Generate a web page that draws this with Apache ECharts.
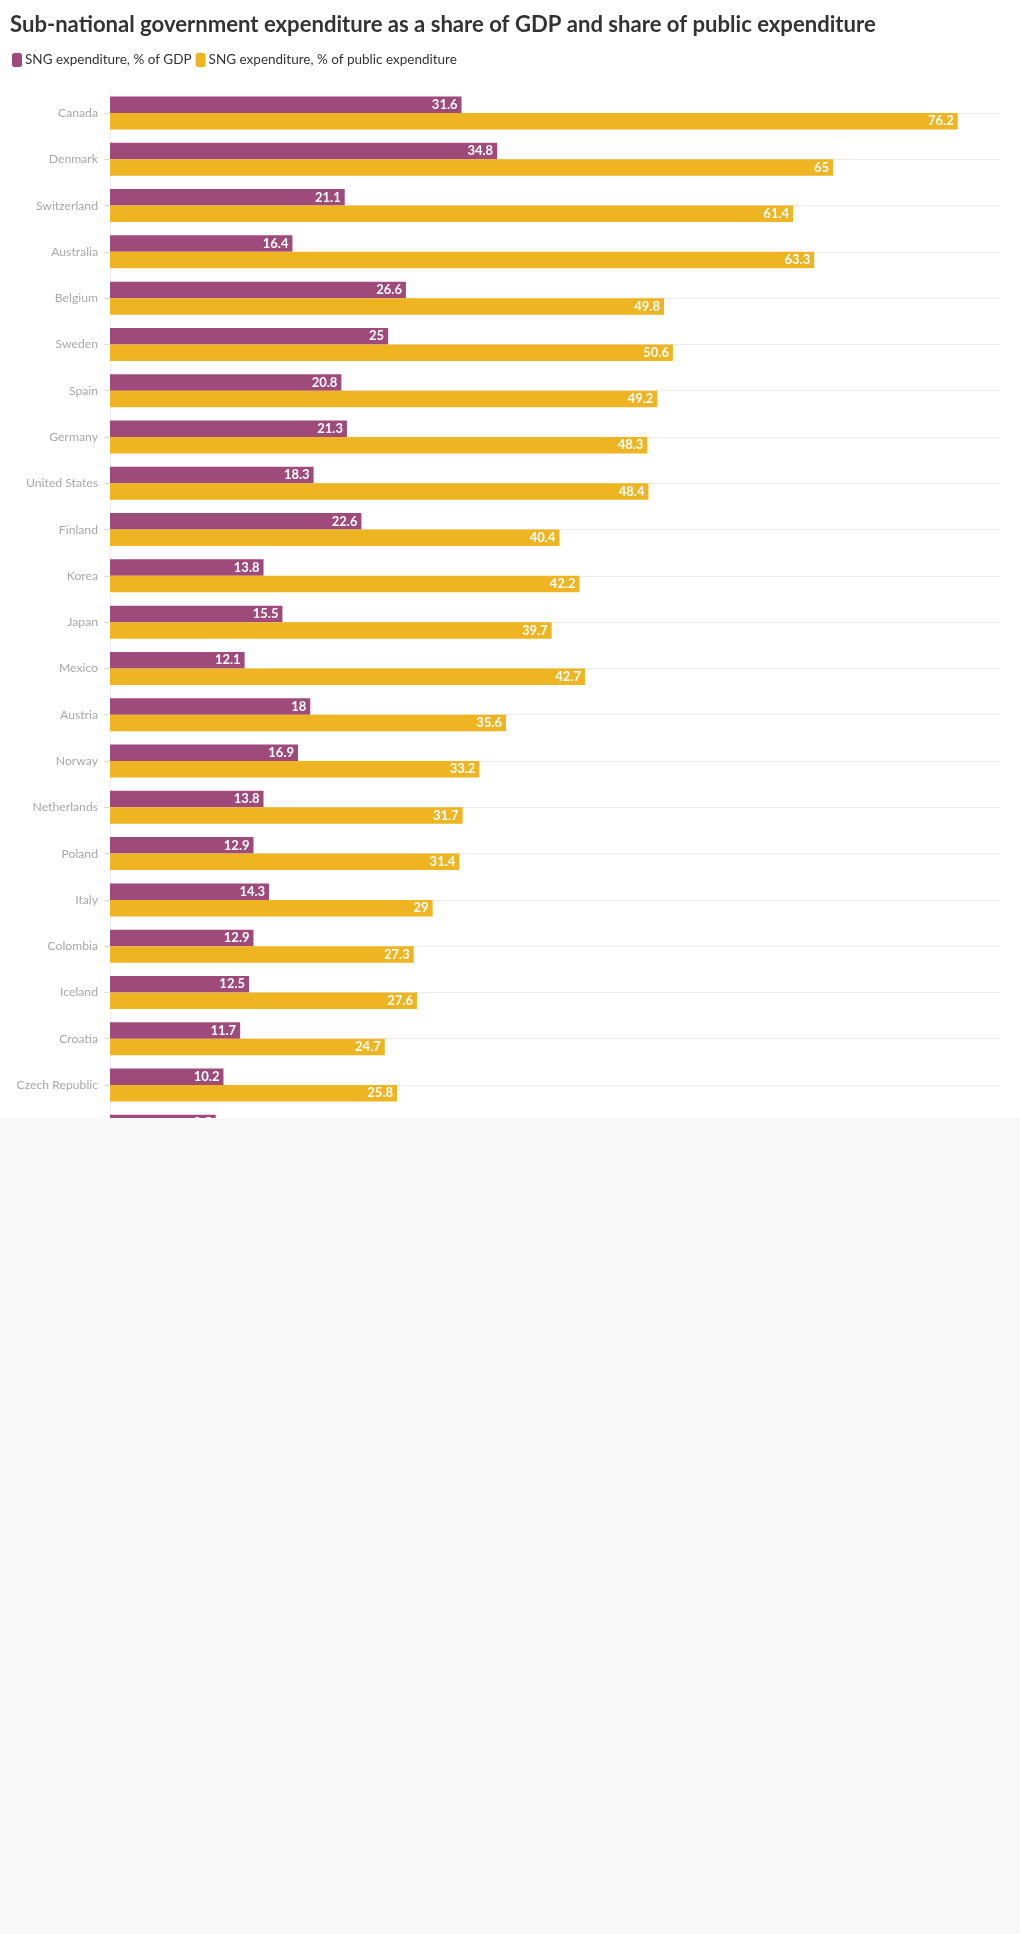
<!DOCTYPE html>
<html>
<head>
<meta charset="utf-8">
<script src="https://cdn.jsdelivr.net/npm/echarts@6/dist/echarts.min.js"></script>
<style>
  html, body { margin: 0; padding: 0; background: #f8f8f8; }
  #wrap { position: absolute; left: 0; top: 0; width: 1020px; height: 1118px; overflow: hidden; background: #ffffff; }
  #chart { width: 1020px; height: 1200px; }
</style>
</head>
<body>
<div id="wrap"><div id="chart"></div></div>
<script>
const categories = ["Canada","Denmark","Switzerland","Australia","Belgium","Sweden","Spain","Germany","United States","Finland","Korea","Japan","Mexico","Austria","Norway","Netherlands","Poland","Italy","Colombia","Iceland","Croatia","Czech Republic","Estonia"];
const gdpShare = [31.6,34.8,21.1,16.4,26.6,25,20.8,21.3,18.3,22.6,13.8,15.5,12.1,18,16.9,13.8,12.9,14.3,12.9,12.5,11.7,10.2,9.5];
const publicShare = [76.2,65,61.4,63.3,49.8,50.6,49.2,48.3,48.4,40.4,42.2,39.7,42.7,35.6,33.2,31.7,31.4,29,27.3,27.6,24.7,25.8,24.1];
const seriesNames = ["SNG expenditure, % of GDP","SNG expenditure, % of public expenditure"];
const titleText = "Sub-national government expenditure as a share of GDP and share of public expenditure";

const FONT = "Lato";
const chart = echarts.init(document.getElementById('chart'), null, {renderer: 'canvas'});
const labelCfg = {
  show: true, position: 'insideRight', distance: 4,
  color: '#ffffff', fontWeight: 'bold', fontSize: 13, fontFamily: FONT
};
chart.setOption({
  animation: false,
  backgroundColor: '#ffffff',
  textStyle: { fontFamily: FONT },
  title: {
    text: titleText, left: 5, top: 9,
    textStyle: { fontSize: 22.1, fontWeight: 'bold', color: '#333333', fontFamily: FONT }
  },
  legend: {
    left: 7, top: 53, itemWidth: 10, itemHeight: 14, itemGap: 4, icon: 'roundRect',
    padding: [0, 5],
    textStyle: { fontSize: 13.5, color: '#333333', fontFamily: FONT, padding: [0, 0, 0, -2] },
    data: seriesNames
  },
  grid: { left: 110, right: 20, top: 89.86, height: 1064.6, containLabel: false },
  xAxis: {
    type: 'value', min: 0, max: 80, show: false,
    splitLine: { show: false }
  },
  yAxis: {
    type: 'category', data: categories, inverse: true,
    axisLine: { show: true, lineStyle: { color: '#eeeeee', width: 1 } },
    axisTick: { show: true, alignWithLabel: true, length: 6, lineStyle: { color: '#dddddd' } },
    axisLabel: { color: '#a8a8a8', fontSize: 12.2, margin: 12, fontFamily: FONT },
    splitLine: { show: true, alignWithLabel: true, lineStyle: { color: '#ececec', width: 1 } }
  },
  series: [
    {
      name: seriesNames[0], type: 'bar', data: gdpShare,
      barWidth: 16.5, barGap: '0%',
      itemStyle: { color: '#9e4a7b' },
      label: labelCfg
    },
    {
      name: seriesNames[1], type: 'bar', data: publicShare,
      barWidth: 16.5, barGap: '0%',
      itemStyle: { color: '#eeb422' },
      label: labelCfg
    }
  ]
});
</script>
</body>
</html>
